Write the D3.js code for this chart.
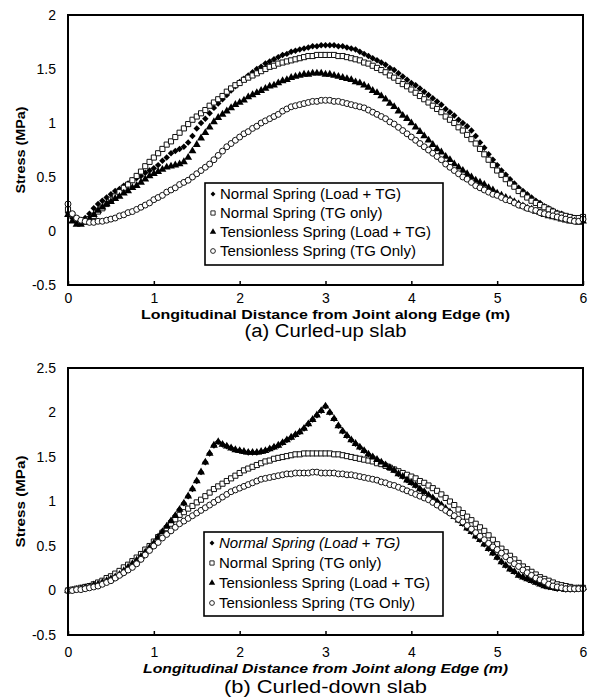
<!DOCTYPE html>
<html><head><meta charset="utf-8">
<script src="https://cdn.jsdelivr.net/npm/d3@7"></script>
<style>
body{margin:0;background:#fff}
svg{display:block}
text{font-family:"Liberation Sans",Arial,sans-serif;fill:#000}
</style>
</head><body>
<svg id="chart" width="596" height="699"></svg>
<script>
// distance along edge (m), one sample every 0.05 m
const distance = d3.range(121).map(i => +(i * 0.05).toFixed(2));

// (a) Curled-up slab
const upNormalLoad = [0.17,0.12,0.08,0.09,0.12,0.16,0.21,0.25,0.28,0.31,0.34,0.37,0.39,0.42,0.44,0.47,0.49,0.51,0.54,0.56,
0.58,0.61,0.65,0.68,0.72,0.74,0.76,0.78,0.82,0.88,0.95,1.00,1.04,1.09,1.14,1.18,1.22,1.26,1.30,1.34,
1.38,1.41,1.44,1.47,1.50,1.52,1.55,1.57,1.59,1.61,1.63,1.64,1.66,1.67,1.68,1.69,1.70,1.71,1.71,1.72,
1.72,1.72,1.72,1.71,1.71,1.70,1.69,1.68,1.66,1.64,1.62,1.60,1.58,1.56,1.54,1.51,1.49,1.46,1.43,1.40,
1.37,1.35,1.32,1.29,1.26,1.23,1.20,1.17,1.13,1.10,1.07,1.03,1.00,0.97,0.93,0.88,0.82,0.77,0.71,0.66,
0.61,0.56,0.52,0.48,0.44,0.40,0.37,0.34,0.31,0.28,0.26,0.23,0.21,0.19,0.17,0.16,0.14,0.13,0.12,0.11,0.10];
const upNormalTG = [0.20,0.15,0.11,0.09,0.09,0.11,0.14,0.18,0.21,0.25,0.29,0.32,0.36,0.40,0.43,0.47,0.51,0.55,0.60,0.64,
0.68,0.72,0.76,0.80,0.83,0.87,0.91,0.95,0.99,1.03,1.06,1.09,1.12,1.16,1.19,1.22,1.25,1.29,1.32,1.35,
1.37,1.40,1.42,1.44,1.46,1.48,1.50,1.52,1.53,1.55,1.56,1.57,1.58,1.59,1.60,1.61,1.62,1.62,1.63,1.63,
1.63,1.63,1.63,1.62,1.62,1.61,1.60,1.59,1.58,1.56,1.55,1.53,1.51,1.49,1.47,1.44,1.42,1.39,1.36,1.34,
1.31,1.28,1.25,1.22,1.19,1.16,1.13,1.10,1.06,1.03,1.00,0.96,0.93,0.89,0.85,0.81,0.76,0.71,0.66,0.61,
0.56,0.52,0.48,0.44,0.41,0.37,0.34,0.31,0.28,0.26,0.24,0.22,0.20,0.18,0.16,0.15,0.14,0.13,0.12,0.12,0.13];
const upTensionLoad = [0.15,0.09,0.06,0.06,0.08,0.11,0.15,0.19,0.22,0.25,0.27,0.30,0.32,0.35,0.37,0.40,0.42,0.45,0.48,0.51,
0.53,0.55,0.57,0.59,0.60,0.61,0.62,0.64,0.68,0.74,0.80,0.86,0.91,0.96,1.01,1.05,1.08,1.11,1.14,1.17,
1.19,1.21,1.24,1.26,1.28,1.30,1.32,1.34,1.35,1.37,1.39,1.40,1.42,1.43,1.44,1.45,1.45,1.46,1.46,1.46,
1.45,1.45,1.44,1.43,1.42,1.41,1.40,1.38,1.37,1.35,1.33,1.30,1.28,1.25,1.22,1.18,1.15,1.11,1.07,1.04,
1.00,0.96,0.92,0.88,0.84,0.80,0.76,0.73,0.69,0.66,0.62,0.59,0.56,0.53,0.50,0.47,0.45,0.43,0.40,0.38,
0.35,0.33,0.31,0.29,0.27,0.25,0.23,0.21,0.20,0.18,0.17,0.15,0.14,0.13,0.12,0.11,0.10,0.09,0.09,0.08,0.09];
const upTensionTG = [0.25,0.16,0.12,0.10,0.09,0.08,0.08,0.09,0.09,0.10,0.11,0.12,0.14,0.15,0.17,0.18,0.20,0.22,0.24,0.26,
0.29,0.31,0.33,0.36,0.38,0.40,0.43,0.45,0.47,0.50,0.53,0.56,0.59,0.62,0.66,0.70,0.74,0.78,0.81,0.84,
0.87,0.90,0.92,0.95,0.97,1.00,1.02,1.04,1.06,1.08,1.11,1.13,1.15,1.16,1.17,1.18,1.19,1.20,1.20,1.21,
1.21,1.21,1.20,1.20,1.19,1.18,1.17,1.16,1.15,1.14,1.12,1.10,1.08,1.06,1.04,1.01,0.99,0.96,0.93,0.90,
0.87,0.84,0.81,0.78,0.75,0.72,0.69,0.66,0.62,0.59,0.56,0.53,0.50,0.48,0.45,0.42,0.40,0.38,0.36,0.34,
0.33,0.31,0.29,0.28,0.26,0.24,0.23,0.21,0.20,0.19,0.17,0.16,0.15,0.14,0.13,0.12,0.11,0.10,0.09,0.09,0.11];

// (b) Curled-down slab
const downNormalLoad = [0.00,0.00,0.01,0.02,0.03,0.04,0.06,0.07,0.09,0.11,0.13,0.15,0.18,0.22,0.26,0.30,0.34,0.38,0.43,0.48,
0.53,0.60,0.66,0.72,0.78,0.84,0.91,0.98,1.06,1.14,1.23,1.33,1.44,1.54,1.63,1.67,1.64,1.62,1.60,1.58,
1.57,1.56,1.55,1.55,1.55,1.56,1.57,1.59,1.61,1.63,1.66,1.69,1.72,1.75,1.78,1.82,1.87,1.92,1.97,2.02,
2.07,2.00,1.93,1.85,1.79,1.74,1.69,1.65,1.61,1.57,1.53,1.50,1.47,1.44,1.41,1.38,1.35,1.31,1.28,1.24,
1.21,1.18,1.14,1.11,1.07,1.04,1.00,0.96,0.92,0.88,0.83,0.79,0.75,0.70,0.66,0.61,0.57,0.52,0.47,0.42,
0.37,0.32,0.28,0.24,0.21,0.17,0.15,0.13,0.11,0.09,0.07,0.05,0.04,0.03,0.02,0.02,0.01,0.01,0.01,0.02,0.03];
const downNormalTG = [0.00,0.01,0.02,0.03,0.04,0.05,0.07,0.09,0.11,0.14,0.16,0.19,0.22,0.26,0.29,0.33,0.37,0.41,0.46,0.50,
0.55,0.60,0.65,0.70,0.75,0.80,0.85,0.88,0.92,0.95,0.99,1.02,1.06,1.10,1.14,1.17,1.20,1.23,1.26,1.29,
1.32,1.35,1.37,1.39,1.41,1.43,1.45,1.46,1.48,1.49,1.50,1.51,1.52,1.53,1.53,1.54,1.54,1.54,1.54,1.54,
1.54,1.54,1.53,1.53,1.52,1.51,1.50,1.49,1.48,1.47,1.46,1.45,1.43,1.42,1.40,1.38,1.36,1.34,1.32,1.30,
1.28,1.26,1.23,1.21,1.18,1.15,1.12,1.08,1.04,1.00,0.96,0.91,0.87,0.83,0.79,0.75,0.71,0.67,0.62,0.57,
0.52,0.47,0.43,0.39,0.35,0.31,0.27,0.24,0.21,0.18,0.15,0.13,0.11,0.09,0.07,0.06,0.05,0.04,0.03,0.03,0.03];
const downTensionLoad = [0.00,0.00,0.01,0.02,0.03,0.04,0.06,0.07,0.09,0.11,0.13,0.15,0.18,0.22,0.26,0.30,0.34,0.38,0.43,0.48,
0.53,0.60,0.66,0.72,0.78,0.84,0.91,0.98,1.06,1.14,1.23,1.33,1.44,1.54,1.63,1.67,1.64,1.62,1.60,1.58,
1.57,1.56,1.55,1.55,1.55,1.56,1.57,1.59,1.61,1.63,1.66,1.69,1.72,1.75,1.78,1.82,1.87,1.92,1.97,2.02,
2.07,2.00,1.93,1.85,1.79,1.74,1.69,1.65,1.61,1.57,1.53,1.50,1.47,1.44,1.41,1.38,1.35,1.31,1.28,1.24,
1.21,1.18,1.14,1.11,1.07,1.04,1.00,0.96,0.92,0.88,0.83,0.79,0.75,0.70,0.66,0.61,0.57,0.52,0.47,0.42,
0.37,0.32,0.28,0.24,0.21,0.17,0.15,0.13,0.11,0.09,0.07,0.05,0.04,0.03,0.02,0.02,0.01,0.01,0.01,0.02,0.03];
const downTensionTG = [0.00,0.00,0.01,0.01,0.02,0.03,0.04,0.05,0.07,0.09,0.11,0.14,0.17,0.20,0.23,0.26,0.30,0.35,0.40,0.45,
0.50,0.54,0.59,0.63,0.67,0.71,0.75,0.78,0.81,0.84,0.87,0.90,0.93,0.96,0.99,1.02,1.05,1.08,1.11,1.13,
1.15,1.17,1.19,1.21,1.23,1.25,1.26,1.27,1.28,1.29,1.30,1.31,1.31,1.32,1.32,1.32,1.32,1.33,1.33,1.32,
1.32,1.32,1.32,1.31,1.31,1.30,1.30,1.29,1.28,1.27,1.26,1.25,1.24,1.22,1.21,1.19,1.18,1.16,1.14,1.12,
1.10,1.08,1.06,1.04,1.02,0.99,0.96,0.93,0.90,0.87,0.84,0.80,0.77,0.73,0.69,0.65,0.61,0.57,0.53,0.49,
0.46,0.42,0.38,0.34,0.30,0.27,0.23,0.20,0.17,0.14,0.12,0.10,0.07,0.05,0.04,0.03,0.02,0.02,0.02,0.02,0.02];

const seriesNames = ["Normal Spring (Load + TG)", "Normal Spring (TG only)", "Tensionless Spring (Load + TG)", "Tensionless Spring (TG Only)"];
const xTicks = [0, 1, 2, 3, 4, 5, 6];
const xTickLabels = ["0", "1", "2", "3", "4", "5", "6"];
const yTicksUp = [-0.5, 0, 0.5, 1, 1.5, 2];
const yTickLabelsUp = ["-0.5", "0", "0.5", "1", "1.5", "2"];
const yTicksDown = [-0.5, 0, 0.5, 1, 1.5, 2, 2.5];
const yTickLabelsDown = ["-0.5", "0", "0.5", "1", "1.5", "2", "2.5"];
const xTitle = "Longitudinal Distance from Joint along Edge (m)";
const yTitle = "Stress (MPa)";
const captions = ["(a) Curled-up slab", "(b) Curled-down slab"];

const svg = d3.select("#chart");
const FONT = '"Liberation Sans", Arial, sans-serif';

const markerStyles = [
  {type: d3.symbolSquare, size: 21, rotate: 45, fill: "#000", stroke: "none", lsize: 12},
  {type: d3.symbolSquare, size: 26, rotate: 0, fill: "#fff", stroke: "#111", lsize: 18},
  {type: d3.symbolTriangle, size: 27, rotate: 0, fill: "#000", stroke: "none", lsize: 18},
  {type: d3.symbolCircle, size: 28, rotate: 0, fill: "#fff", stroke: "#111", lsize: 18}
];

const panels = [
  {left: 68, right: 583, top: 15, bottom: 285, yDomain: [-0.5, 2], yTicks: yTicksUp, yLabels: yTickLabelsUp,
   series: [upNormalLoad, upNormalTG, upTensionLoad, upTensionTG],
   xPad: 8, xTitleY: 319, xTitleLen: 369, xTitleItalic: false, captionY: 337, captionLen: 162,
   yTitleLen: 87, legend: {x: 205, y: 183, w: 238, h: 82, rowY: 194, dy: 19, italicFirst: false}},
  {left: 68, right: 583, top: 368, bottom: 635, yDomain: [-0.5, 2.5], yTicks: yTicksDown, yLabels: yTickLabelsDown,
   series: [downNormalLoad, downNormalTG, downTensionLoad, downTensionTG],
   xPad: 12, xTitleY: 673, xTitleLen: 365, xTitleItalic: true, captionY: 693, captionLen: 203,
   yTitleLen: 92, legend: {x: 204, y: 532, w: 239, h: 84, rowY: 543, dy: 20, italicFirst: true}}
];

panels.forEach((p, pi) => {
  const x = d3.scaleLinear().domain([0, 6]).range([p.left, p.right]);
  const y = d3.scaleLinear().domain(p.yDomain).range([p.bottom, p.top]);
  const g = svg.append("g");

  // x axis ticks and labels
  g.append("g").attr("transform", `translate(0,${p.bottom})`)
    .call(d3.axisBottom(x).tickValues(xTicks).tickFormat((d, i) => xTickLabels[i])
      .tickSizeInner(-4).tickSizeOuter(0).tickPadding(p.xPad))
    .call(s => s.select(".domain").remove())
    .call(s => s.selectAll("line").attr("stroke", "#000").attr("stroke-width", 1.5))
    .call(s => s.selectAll("text").attr("font-family", FONT).attr("font-size", 14).attr("fill", "#000"));

  // y axis labels
  g.append("g").attr("transform", `translate(${p.left},0)`)
    .call(d3.axisLeft(y).tickValues(p.yTicks).tickFormat((d, i) => p.yLabels[i])
      .tickSizeInner(0).tickSizeOuter(0).tickPadding(12))
    .call(s => s.select(".domain").remove())
    .call(s => s.selectAll("text").attr("font-family", FONT).attr("font-size", 14).attr("fill", "#000"));

  // markers
  p.series.forEach((vals, si) => {
    const st = markerStyles[si];
    const sym = d3.symbol().type(st.type).size(st.size)();
    g.append("g").selectAll("path").data(vals).join("path")
      .attr("d", sym)
      .attr("transform", (d, i) => `translate(${x(distance[i])},${y(d)}) rotate(${st.rotate})`)
      .attr("fill", st.fill)
      .attr("stroke", st.stroke)
      .attr("stroke-width", 1);
  });

  // plot frame
  g.append("rect").attr("x", p.left).attr("y", p.top)
    .attr("width", p.right - p.left).attr("height", p.bottom - p.top)
    .attr("fill", "none").attr("stroke", "#000").attr("stroke-width", 2);

  // legend
  const L = p.legend;
  const lg = g.append("g");
  lg.append("rect").attr("x", L.x).attr("y", L.y).attr("width", L.w).attr("height", L.h)
    .attr("fill", "#fff").attr("stroke", "#000").attr("stroke-width", 1.6);
  seriesNames.forEach((name, si) => {
    const st = markerStyles[si];
    const cy = L.rowY + si * L.dy;
    lg.append("path").attr("d", d3.symbol().type(st.type).size(st.lsize)())
      .attr("transform", `translate(${L.x + 8},${cy}) rotate(${st.rotate})`)
      .attr("fill", st.fill).attr("stroke", st.stroke).attr("stroke-width", 0.9);
    lg.append("text").attr("x", L.x + 15).attr("y", cy + 5)
      .attr("font-size", 15)
      .attr("font-style", (L.italicFirst && si === 0) ? "italic" : "normal")
      .text(name);
  });

  // axis titles
  const cx = (p.left + p.right) / 2;
  g.append("text").attr("x", cx).attr("y", p.xTitleY)
    .attr("text-anchor", "middle").attr("font-size", 13).attr("font-weight", "bold")
    .attr("font-style", p.xTitleItalic ? "italic" : "normal")
    .attr("textLength", p.xTitleLen).attr("lengthAdjust", "spacingAndGlyphs")
    .text(xTitle);
  const cy = (p.top + p.bottom) / 2;
  g.append("text").attr("transform", `translate(25,${cy}) rotate(-90)`)
    .attr("text-anchor", "middle").attr("font-size", 13).attr("font-weight", "bold")
    .attr("textLength", p.yTitleLen).attr("lengthAdjust", "spacingAndGlyphs")
    .text(yTitle);
  g.append("text").attr("x", cx).attr("y", p.captionY)
    .attr("text-anchor", "middle").attr("font-size", 18)
    .attr("textLength", p.captionLen).attr("lengthAdjust", "spacingAndGlyphs")
    .text(captions[pi]);
});
</script>
</body></html>
